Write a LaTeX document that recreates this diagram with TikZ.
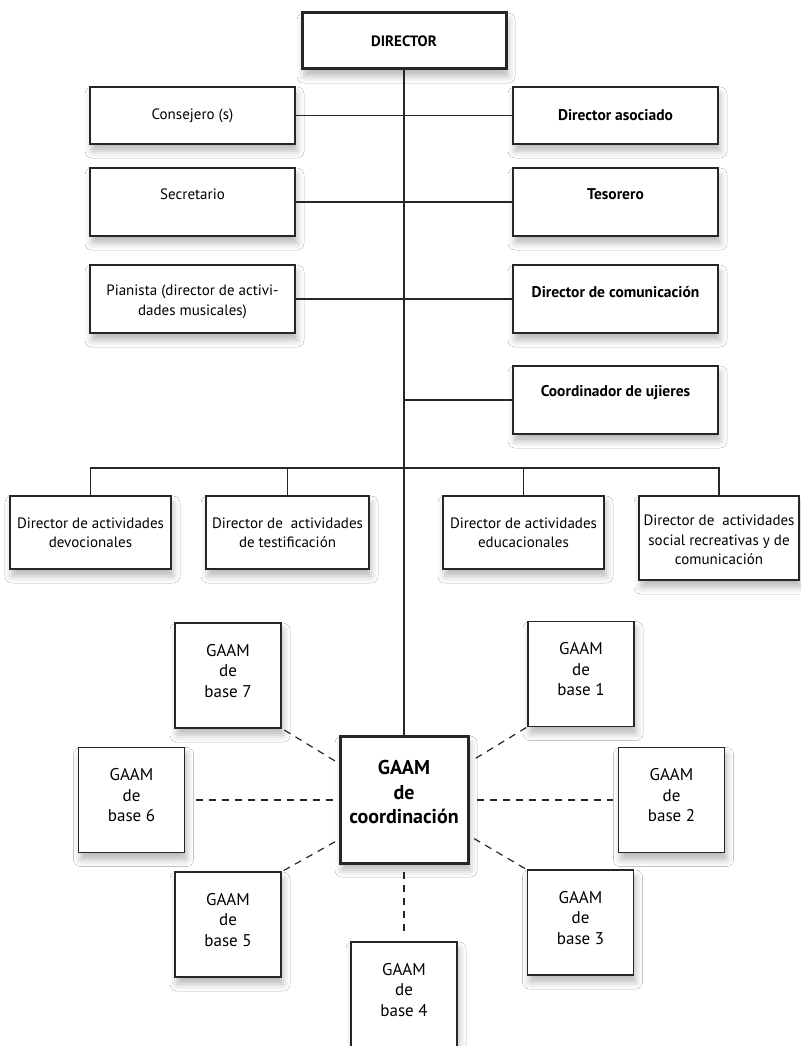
\documentclass[tikz,border=0pt]{standalone}
\usepackage{fontspec}
\setmainfont{PT Sans}
\usetikzlibrary{shadows.blur,calc}
\begin{document}
\begin{tikzpicture}[x=1pt,y=-1pt,
  every node/.style={inner sep=0pt, outer sep=0pt},
  sh/.style={blur shadow={shadow xshift=2pt, shadow yshift=-7pt, shadow blur radius=7pt, shadow opacity=28}},
  box/.style={draw=black!85, line width=1.3pt, fill=white, sh, align=center,
              font=\fontsize{15}{19}\selectfont},
  bbox/.style={box, font=\bfseries\fontsize{15.5}{19}\selectfont},
  rowbox/.style={box, minimum width=205pt},
  rowbbox/.style={bbox, minimum width=205pt},
  gbox/.style={box, minimum width=106pt, minimum height=105pt},
  lab/.style={align=center, font=\fontsize{15}{19.5}\selectfont},
  blab/.style={align=center, font=\bfseries\fontsize{15.5}{19}\selectfont},
  glab/.style={align=center, font=\fontsize{17}{20.5}\selectfont},
  link/.style={draw=black!85, line width=1.2pt},
  dashlink/.style={link, dash pattern=on 7pt off 6pt},
]
\fill[white] (0,0) rectangle (800,1046);
\useasboundingbox (0,0) rectangle (800,1046);

% top
\node[bbox, line width=3pt, minimum width=204pt, minimum height=56pt,
      font=\bfseries\fontsize{15}{19}\selectfont] (dir) at (404,41) {DIRECTOR};

\node[rowbox,  minimum height=57pt] (cons) at (192.5,115.5) {Consejero (s)};
\node[rowbbox, minimum height=57pt] (asoc) at (615.5,115.5) {Director asociado};

\node[rowbox,  minimum height=68pt, label={[lab, yshift=8pt]center:Secretario}] (secr) at (192.5,202) {};
\node[rowbbox, minimum height=68pt, label={[blab, yshift=8pt]center:Tesorero}] (teso) at (615.5,202) {};

\node[rowbox,  minimum height=68pt, label={[lab, yshift=-3pt]center:Pianista (director de activi-\\dades musicales)}] (pian) at (192.5,299) {};
\node[rowbbox, minimum height=68pt, label={[blab, yshift=7pt]center:Director de comunicación}] (comu) at (615.5,299) {};

\node[rowbbox, minimum height=68pt, label={[blab, yshift=7pt]center:Coordinador de ujieres}] (ujie) at (615.5,400) {};

% activities row
\node[box, minimum width=161pt, minimum height=73pt] (dev) at (90.5,532.5) {Director de actividades\\devocionales};
\node[box, minimum width=163pt, minimum height=73pt] (tes) at (287.5,532.5) {Director de\ \ actividades\\de testificación};
\node[box, minimum width=161pt, minimum height=73pt] (edu) at (523.5,532.5) {Director de actividades\\educacionales};
\node[box, minimum width=160pt, minimum height=84pt, label={[lab, yshift=-2pt]center:Director de\ \ actividades\\social recreativas y de\\comunicación}] (soc) at (719,538) {};

% GAAM
\node[box, line width=3pt, minimum width=128pt, minimum height=127pt,
      label={[align=center, font=\bfseries\fontsize{20}{24.5}\selectfont, yshift=7.5pt]center:GAAM\\de\\coordinación}] (coord) at (404,799.5) {};
\node[gbox, label={[glab, yshift=4.5pt]center:GAAM\\de\\base 7}] (b7) at (228,675.5) {};
\node[gbox, label={[glab, yshift=4.5pt]center:GAAM\\de\\base 1}] (b1) at (581,674) {};
\node[gbox, label={[glab, yshift=4.5pt]center:GAAM\\de\\base 6}] (b6) at (131.5,800) {};
\node[gbox, label={[glab, yshift=4.5pt]center:GAAM\\de\\base 2}] (b2) at (671.5,800) {};
\node[gbox, label={[glab, yshift=4.5pt]center:GAAM\\de\\base 5}] (b5) at (228,924.5) {};
\node[gbox, label={[glab, yshift=4.5pt]center:GAAM\\de\\base 3}] (b3) at (580.5,922.5) {};
\node[gbox, minimum height=106pt, label={[glab, yshift=5pt]center:GAAM\\de\\base 4}] (b4) at (404,995) {};

% solid connectors
\draw[link] (dir.south) -- (coord.north);
\draw[link] (cons.east) -- (asoc.west);
\draw[link] (secr.east) -- (teso.west);
\draw[link] (pian.east) -- (comu.west);
\draw[link] (ujie.west) -- (ujie.west -| dir.south);
\coordinate (bus) at (404,468);
\draw[link] (dev.north) |- (bus) -| (soc.north);
\draw[link] (tes.north) -- (tes.north |- bus);
\draw[link] (edu.north) -- (edu.north |- bus);

% dashed connectors
\draw[dashlink, shorten <=4pt, shorten >=1pt] (b7.south east) -- ($(coord.north west)+(0,28)$);
\draw[dashlink, shorten <=2pt, shorten >=4pt] (b1.south west) -- ($(coord.north east)+(0,27)$);
\draw[dashlink, shorten <=11pt, shorten >=7pt] (b6.east) -- (coord.west |- b6.east);
\draw[dashlink, shorten <=9pt, shorten >=6pt] (coord.east |- b2.west) -- (b2.west);
\draw[dashlink, shorten <=3pt, shorten >=3pt] (b5.north east) -- ($(coord.south west)+(0,-24)$);
\draw[dashlink, shorten <=3pt, shorten >=4pt] (b3.north west) -- ($(coord.south east)+(0,-28)$);
\draw[dashlink, shorten <=9pt, shorten >=7pt] (coord.south) -- (coord.south |- b4.north);
\end{tikzpicture}
\end{document}
